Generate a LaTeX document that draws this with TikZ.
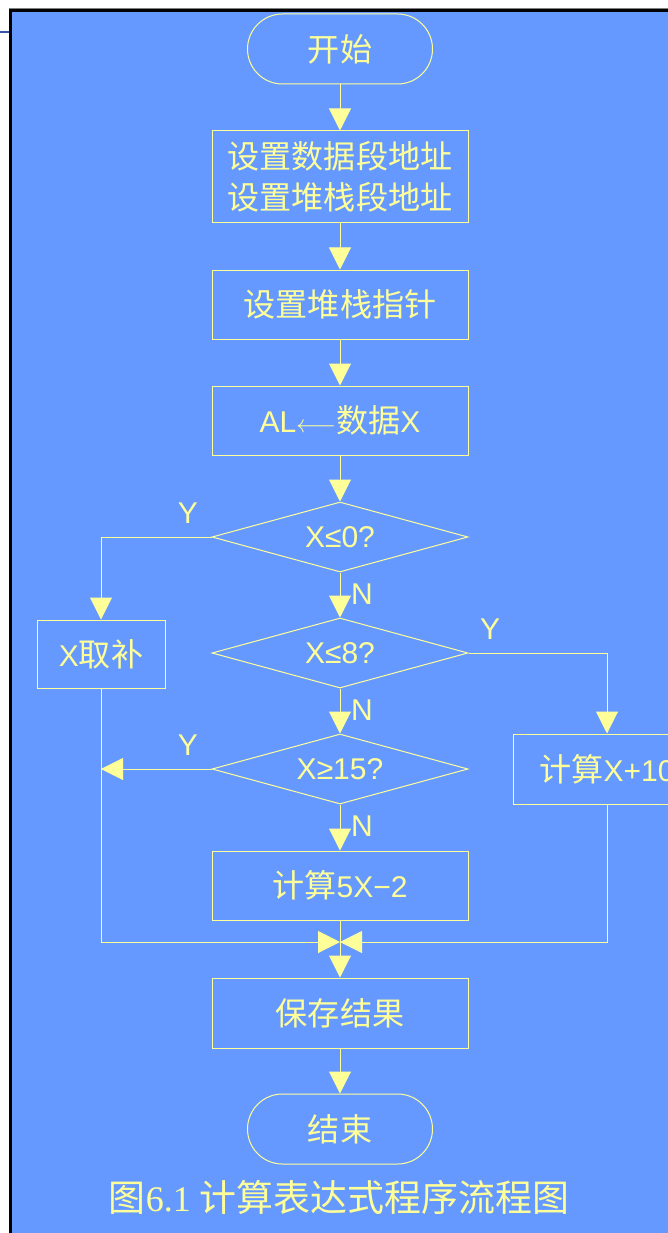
\documentclass[tikz,border=0pt]{standalone}
\usepackage{fontspec}
\setmainfont{Liberation Sans}
\newfontfamily\cjkfont[Scale=1.07]{Noto Sans CJK SC}
\newfontfamily\capserif{Liberation Serif}
\newcommand\zhtxt[1]{{\cjkfont #1}}
\usetikzlibrary{shapes.geometric,arrows.meta}
\definecolor{bg}{HTML}{6699FF}
\definecolor{fg}{HTML}{FFFF99}
\definecolor{edge}{HTML}{3355AA}
\begin{document}
\begin{tikzpicture}[x=1pt,y=-1pt,
  txt/.style={text=fg, font=\fontsize{30}{41}\selectfont},
  box/.style={txt, draw=fg, line width=1pt, minimum width=256pt, minimum height=69pt, inner sep=0pt, align=center},
  term/.style={box, minimum width=185pt, minimum height=70pt, rounded corners=35pt},
  dec/.style={txt, diamond, draw=fg, line width=1pt, aspect=3.66, minimum width=256pt, minimum height=70pt, inner sep=0pt},
  conn/.style={draw=fg, line width=1pt},
  arr/.style={conn, -{Triangle[length=22pt,width=22pt]}},
  lab/.style={text=fg, font=\fontsize{30}{30}\selectfont, inner sep=0pt}
]
\useasboundingbox (0,0) rectangle (667,1233);
% background panel
\fill[bg] (11,11) rectangle (700,1260);
\draw[black, line width=3pt] (10.5,1260) -- (10.5,10.5) -- (700,10.5);
\draw[gray, line width=0.8pt] (9,8.6) -- (700,8.6);
\draw[edge, line width=2pt] (0,32.5) -- (9,32.5);

% nodes
\node[term] (start) at (340,49) {\zhtxt{开始}};
\node[box, minimum height=92pt] (b1) at (340,177) {\zhtxt{设置数据段地址}\\\zhtxt{设置堆栈段地址}};
\node[box] (b2) at (340,304.5) {\zhtxt{设置堆栈指针}};
\node[box] (b3) at (340,420.5) {AL$\longleftarrow$\zhtxt{数据}X};
\node[dec] (d1) at (340,537) {X≤0?};
\node[dec] (d2) at (340,653) {X≤8?};
\node[dec] (d3) at (340,769) {X≥15?};
\node[box] (b5) at (340,885.5) {\zhtxt{计算}5X−2};
\node[box, minimum width=128pt, minimum height=68pt] (neg) at (101,654) {X\zhtxt{取补}};
\node[box, minimum width=188pt, minimum height=70pt] (add) at (607,769) {\zhtxt{计算}X+10};
\coordinate (m) at (340,942);
\node[box, minimum height=70pt] (save) at (340,1013) {\zhtxt{保存结果}};
\node[term] (end) at (340,1129) {\zhtxt{结束}};

% labels
\node[lab] (y1) at (188,513) {Y};
\node[lab] (n1) at (362,594) {N};
\node[lab] (y2) at (490,629) {Y};
\node[lab] (n2) at (362,710) {N};
\node[lab] (y3) at (188,745) {Y};
\node[lab] (n3) at (362,826) {N};

% connectors
\draw[arr] (start) -- (b1);
\draw[arr] (b1) -- (b2);
\draw[arr] (b2) -- (b3);
\draw[arr] (b3) -- (d1);
\draw[arr] (d1) -- (d2);
\draw[arr] (d2) -- (d3);
\draw[arr] (d3) -- (b5);
\draw[arr] (d1.west) -| (neg.north);
\draw[arr] (d2.east) -| (add.north);
\draw[arr] (d3.west) -- (d3.west -| neg.south);
\draw[arr] (neg.south) |- (m);
\draw[arr] (add.south) |- (m);
\draw[conn] (b5.south) -- (m);
\draw[arr] (m) -- (save.north);
\draw[arr] (save) -- (end);

% caption
\node[text=fg, inner sep=0pt, font=\fontsize{34.5}{34.5}\selectfont] (cap) at (339,1197) {\zhtxt{图}{\capserif\fontsize{36}{36}\selectfont 6.1 }\zhtxt{计算表达式程序流程图}};
\end{tikzpicture}
\end{document}
